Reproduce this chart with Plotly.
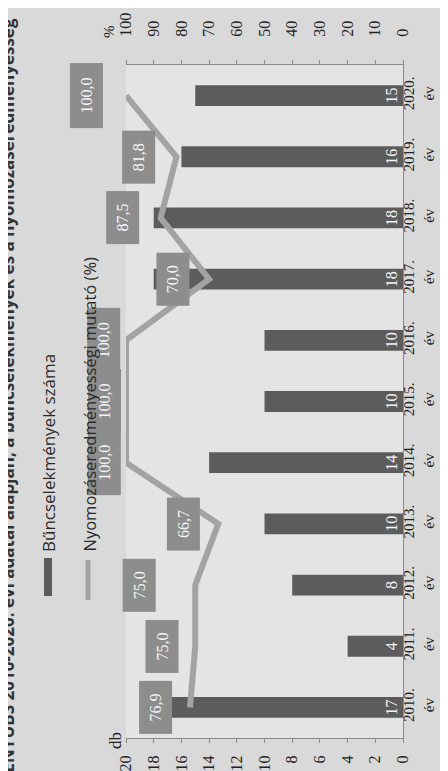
import plotly.graph_objects as go

# adatok
evek = ['2010.', '2011.', '2012.', '2013.', '2014.', '2015.', '2016.', '2017.', '2018.', '2019.', '2020.']
bunc_szam = [17, 4, 8, 10, 14, 10, 10, 18, 18, 16, 15]
nyom_mutato = [76.9, 75.0, 75.0, 66.7, 100.0, 100.0, 100.0, 70.0, 87.5, 81.8, 100.0]
db_ticks = [0, 2, 4, 6, 8, 10, 12, 14, 16, 18, 20]
pct_ticks = [0, 10, 20, 30, 40, 50, 60, 70, 80, 90, 100]

# cimke eltolasok (px), kezzel igazitva az eredetihez
cimke_dx = [-34, -33, -56, -35, -22, -22, -22, -36, -38, -38, -40]

W, H = 448, 771
L, R, T, B = 118, 53, 57, 41
PW, PH = W - L - R, H - T - B

def px(x):
    return (x - L) / PW

def py(y):
    return (H - B - y) / PH

serif = 'Liberation Serif'
sans = 'Open Sans'

fig = go.Figure()
fig.add_trace(go.Bar(
    y=evek, x=bunc_szam, orientation='h', width=0.34,
    marker=dict(color='#5c5c5c', line=dict(width=0)),
    text=[str(v) for v in bunc_szam], textposition='inside',
    insidetextanchor='start', textangle=-90, constraintext='none',
    textfont=dict(family=serif, size=16, color='#f4f4f4'),
    showlegend=False, cliponaxis=False
))
fig.add_trace(go.Scatter(
    y=evek, x=nyom_mutato, xaxis='x2', mode='lines',
    line=dict(color='#a3a3a3', width=6),
    showlegend=False, cliponaxis=False
))

annots = []
for i, (v, dx) in enumerate(zip(nyom_mutato, cimke_dx)):
    s = ('%.1f' % v).replace('.', ',')
    annots.append(dict(
        x=v, xref='x2', y=i, yref='y', xshift=dx, showarrow=False,
        text=s, textangle=-90, bgcolor='#8d8d8d', borderpad=2,
        width=60 if len(s) > 4 else 48, height=28,
        font=dict(family=serif, size=16, color='#f6f6f6')
    ))

# tengelycimek
annots.append(dict(x=px(107), y=py(733), xref='paper', yref='paper', showarrow=False,
                   xanchor='center', yanchor='middle',
                   text='db', textangle=-90, font=dict(family=serif, size=17, color='#222')))
annots.append(dict(x=px(101), y=py(24), xref='paper', yref='paper', showarrow=False,
                   xanchor='center', yanchor='middle',
                   text='%', textangle=-90, font=dict(family=serif, size=15, color='#222')))

# jelmagyarazat
annots.append(dict(x=px(40), y=py(546), xref='paper', yref='paper', showarrow=False,
                   xanchor='center', yanchor='bottom',
                   text='Bűncselekmények száma', textangle=-90,
                   font=dict(family=sans, size=17, color='#2a2a2a')))
annots.append(dict(x=px(81), y=py(546), xref='paper', yref='paper', showarrow=False,
                   xanchor='center', yanchor='bottom',
                   text='Nyomozáseredményességi mutató (%)', textangle=-90,
                   font=dict(family=sans, size=16.5, color='#2a2a2a')))

# levagott cim a bal szelen
annots.append(dict(x=px(-1), y=py(790), xref='paper', yref='paper', showarrow=False,
                   xanchor='center', yanchor='bottom',
                   text='<b>az ENYÜBS 2010-2020. évi adatai alapján, a bűncselekmények és a nyomozáseredményesség</b>',
                   textangle=-90, font=dict(family=sans, size=17, color='#333')))

shapes = [
    dict(type='rect', xref='paper', yref='paper', x0=px(36), x1=px(44), y0=py(588), y1=py(550),
         fillcolor='#5c5c5c', line=dict(width=0)),
    dict(type='line', xref='paper', yref='paper', x0=px(80), x1=px(80), y0=py(592), y1=py(552),
         line=dict(color='#a3a3a3', width=5)),
]

fig.update_layout(
    width=W, height=H,
    margin=dict(l=L, r=R, t=T, b=B, autoexpand=False),
    paper_bgcolor='#d9d9d9', plot_bgcolor='#e4e4e4',
    xaxis=dict(range=[20, 0], tickvals=db_ticks, tickangle=-90, side='bottom',
               showgrid=False, zeroline=False, showline=True, linecolor='#8a8a8a',
               ticks='outside', ticklen=4, tickcolor='#8a8a8a', automargin=False,
               ticklabelstandoff=6,
               tickfont=dict(family=serif, size=16, color='#222')),
    xaxis2=dict(range=[100, 0], tickvals=pct_ticks, tickangle=-90, side='top',
                overlaying='x', showgrid=False, zeroline=False, showline=True,
                linecolor='#8a8a8a', ticks='outside', ticklen=4, tickcolor='#8a8a8a',
                automargin=False, ticklabelstandoff=20,
                tickfont=dict(family=serif, size=16, color='#222')),
    yaxis=dict(type='category', categoryorder='array', categoryarray=evek,
               range=[-0.5, len(evek) - 0.5],
               tickvals=evek, ticktext=[e + '<br>év' for e in evek],
               side='right', tickangle=-90, showgrid=False, zeroline=False,
               showline=True, linecolor='#8a8a8a', ticks='', automargin=False,
               ticklabelstandoff=-8,
               tickfont=dict(family=serif, size=15, color='#222')),
    annotations=annots, shapes=shapes,
)

fig.write_html('out.html')
